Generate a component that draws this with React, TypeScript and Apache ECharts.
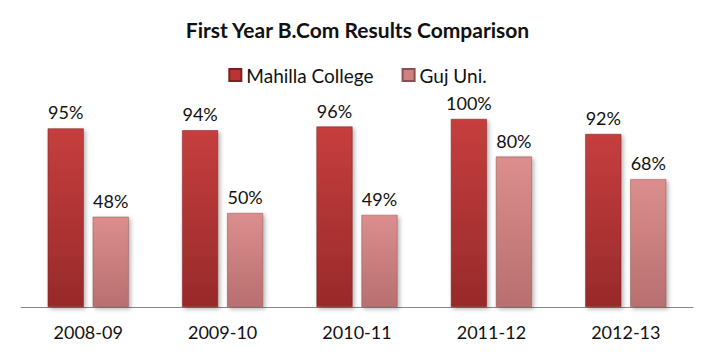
import React, { useEffect, useRef } from "react";
import * as echarts from "echarts";

const categories = ["2008-09", "2009-10", "2010-11", "2011-12", "2012-13"];
const mahillaCollege = [95, 94, 96, 100, 92];
const gujUni = [48, 50, 49, 80, 68];

export default function App() {
  const ref = useRef<HTMLDivElement>(null);
  useEffect(() => {
    if (!ref.current) return;
    const chart = echarts.init(ref.current, null, { renderer: "svg" });
    const font = "Lato, 'Open Sans', sans-serif";
    const grad = (a: string, b: string) =>
      new echarts.graphic.LinearGradient(0, 0, 0, 1, [
        { offset: 0, color: a },
        { offset: 1, color: b },
      ]);
    chart.setOption({
      animation: false,
      backgroundColor: "#ffffff",
      textStyle: { fontFamily: font },
      title: {
        text: "First Year B.Com Results Comparison",
        left: "center",
        top: 14,
        textStyle: { fontFamily: font, fontSize: 21, fontWeight: "bold", color: "#111" },
      },
      legend: {
        top: 65,
        left: "center",
        icon: "rect",
        itemWidth: 12,
        itemHeight: 12,
        itemGap: 28,
        padding: 0,
        textStyle: { fontFamily: font, fontSize: 19, color: "#111", lineHeight: 20 },
        data: [
          { name: "Mahilla College", itemStyle: { color: "#B83535" } },
          { name: "Guj Uni.", itemStyle: { color: "#CF8080" } },
        ],
      },
      grid: { left: 21, right: 22, top: 119, bottom: 50 },
      xAxis: {
        type: "category",
        data: categories,
        axisLine: { lineStyle: { color: "#888", width: 1 } },
        axisTick: { show: false },
        axisLabel: { fontFamily: font, fontSize: 18, color: "#111", margin: 16 },
      },
      yAxis: {
        type: "value",
        min: 0,
        max: 100,
        show: false,
        splitLine: { show: false },
      },
      series: [
        {
          name: "Mahilla College",
          type: "bar",
          data: mahillaCollege,
          barWidth: 36,
          barGap: "25%",
          itemStyle: {
            color: grad("#C63E3E", "#982A2A"),
            borderColor: "#7a1f1f",
            borderWidth: 0.5,
            shadowBlur: 4,
            shadowOffsetX: 2,
            shadowOffsetY: 2,
            shadowColor: "rgba(0,0,0,0.3)",
          },
          label: {
            show: true,
            position: "top",
            distance: 7,
            formatter: "{c}%",
            fontFamily: font,
            fontSize: 18,
            lineHeight: 18,
            color: "#111",
          },
        },
        {
          name: "Guj Uni.",
          type: "bar",
          data: gujUni,
          barWidth: 36,
          itemStyle: {
            color: grad("#DC8E8E", "#B86F6F"),
            borderColor: "#8a5050",
            borderWidth: 0.5,
            shadowBlur: 4,
            shadowOffsetX: 2,
            shadowOffsetY: 2,
            shadowColor: "rgba(0,0,0,0.3)",
          },
          label: {
            show: true,
            position: "top",
            distance: 7,
            formatter: "{c}%",
            fontFamily: font,
            fontSize: 18,
            lineHeight: 18,
            color: "#111",
          },
        },
      ],
    });
    return () => chart.dispose();
  }, []);
  return <div ref={ref} style={{ width: 715, height: 357, margin: -8 }} />;
}
